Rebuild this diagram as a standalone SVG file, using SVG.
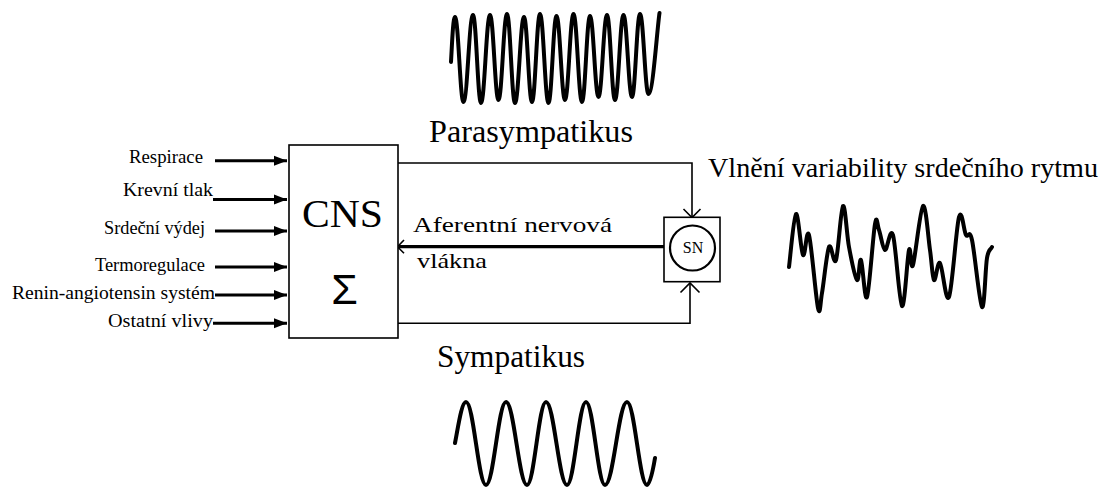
<svg xmlns="http://www.w3.org/2000/svg" width="1105" height="488" viewBox="0 0 1105 488">
<style>
.lbl{font-size:19px;text-anchor:end}
.sf{font-family:'Liberation Serif','Times New Roman',serif}
.box{fill:#fff;stroke:#000;stroke-width:1.6}
.thin{fill:none;stroke:#000;stroke-width:1.6}
.in{fill:none;stroke:#000;stroke-width:3}
.wave{fill:none;stroke:#000;stroke-width:4;stroke-linejoin:round;stroke-linecap:round}
</style>
<defs>
<marker id="fill" markerUnits="userSpaceOnUse" markerWidth="14" markerHeight="12" refX="13" refY="6" orient="auto">
<path d="M0,1 L13,6 L0,11 Z" fill="#000"/>
</marker>
</defs>
<rect width="1105" height="488" fill="#fff"/>

<g id="inputs" class="sf" fill="#000">
<text class="lbl" x="203" y="163" textLength="74" lengthAdjust="spacingAndGlyphs">Respirace</text>
<text class="lbl" x="213" y="196" textLength="90" lengthAdjust="spacingAndGlyphs">Krevní tlak</text>
<text class="lbl" x="205" y="234" textLength="101" lengthAdjust="spacingAndGlyphs">Srdeční výdej</text>
<text class="lbl" x="205" y="271" textLength="110" lengthAdjust="spacingAndGlyphs">Termoregulace</text>
<text class="lbl" x="215" y="299" textLength="203" lengthAdjust="spacingAndGlyphs">Renin-angiotensin systém</text>
<text class="lbl" x="213" y="327" textLength="105" lengthAdjust="spacingAndGlyphs">Ostatní vlivy</text>
</g>

<g id="connectors">
<line class="in" x1="215" y1="160.7" x2="287" y2="160.7" marker-end="url(#fill)"/>
<line class="in" x1="213" y1="199.5" x2="287" y2="199.5" marker-end="url(#fill)"/>
<line class="in" x1="215" y1="231" x2="287" y2="231" marker-end="url(#fill)"/>
<line class="in" x1="215" y1="267" x2="287" y2="267" marker-end="url(#fill)"/>
<line class="in" x1="215" y1="295" x2="287" y2="295" marker-end="url(#fill)"/>
<line class="in" x1="213" y1="323.3" x2="287" y2="323.3" marker-end="url(#fill)"/>
<polyline class="thin" points="398,163 692,163 692,217"/>
<polyline class="thin" points="683.5,209 692,217.5 700.5,209"/>
<polyline class="thin" points="398,323.3 690,323.3 690,283"/>
<polyline class="thin" points="680.5,292.5 690,283 699.5,292.5"/>
<line x1="664" y1="246.7" x2="399" y2="246.7" stroke="#000" stroke-width="3.3"/>
<polyline class="thin" points="404,240 397.5,246.7 404,253.3"/>
</g>

<g id="cns">
<rect class="box" x="289" y="145" width="109" height="193"/>
<text class="sf" x="302" y="227" font-size="41" textLength="81" lengthAdjust="spacingAndGlyphs">CNS</text>
<text x="344.5" y="304" font-family="Liberation Sans, Arial, sans-serif" font-size="43" text-anchor="middle">Σ</text>
</g>

<g id="sn">
<rect class="box" x="664" y="217.3" width="56" height="64.4"/>
<circle cx="692.5" cy="248" r="22.5" fill="#fff" stroke="#000" stroke-width="2.2"/>
<text class="sf" x="693" y="253" font-size="16" text-anchor="middle">SN</text>
</g>

<g id="labels" class="sf" fill="#000">
<text x="429" y="142" font-size="31" textLength="204" lengthAdjust="spacingAndGlyphs">Parasympatikus</text>
<text x="437" y="367" font-size="31" textLength="148" lengthAdjust="spacingAndGlyphs">Sympatikus</text>
<text x="708" y="177" font-size="28" textLength="390" lengthAdjust="spacingAndGlyphs">Vlnění variability srdečního rytmu</text>
<text x="413" y="232" font-size="22" textLength="199" lengthAdjust="spacingAndGlyphs">Aferentní nervová</text>
<text x="417" y="268" font-size="22" textLength="70" lengthAdjust="spacingAndGlyphs">vlákna</text>
</g>

<g id="parasympathetic-wave">
<path class="wave" d="M451,62 C452,45 453,17 455,17 C458.4,17 460.1,102 463.5,102 C467.3,102 469.2,15 473,15 C476.2,15 477.8,103 481,103 C484.6,103 486.4,15 490,15 C493.4,15 495.1,100 498.5,100 C501.9,100 503.6,14 507,14 C510.2,14 511.8,103 515,103 C518.6,103 520.4,17 524,17 C527.2,17 528.8,102 532,102 C535.2,102 536.8,14 540,14 C543.4,14 545.1,103 548.5,103 C551.7,103 553.3,16 556.5,16 C559.9,16 561.6,100 565,100 C568.4,100 570.1,14 573.5,14 C576.9,14 578.6,102 582,102 C585.2,102 586.8,16 590,16 C593.4,16 595.1,97 598.5,97 C601.9,97 603.6,15 607,15 C610.2,15 611.8,100 615,100 C618.4,100 620.1,15 623.5,15 C626.9,15 628.6,97 632,97 C635.2,97 636.8,14 640,14 C643.4,14 645.1,94 648.5,94 C652.9,94 657,30 659.5,13"/>
</g>

<g id="sympathetic-wave">
<path class="wave" d="M455,443 C458,428 461.5,402 466,402 C473.6,402 478.4,485 486,485 C493.6,485 498.4,402 506,402 C514,402 519,485 527,485 C534.2,485 538.8,402 546,402 C554,402 559,485 567,485 C574.2,485 578.8,402 586,402 C593.2,402 597.8,485 605,485 C613.4,485 618.6,402 627,402 C634.6,402 639.4,485 647,485 C650,485 653,470 655,458"/>
</g>

<g id="hrv-wave">
<path class="wave" d="M789,267 C790.2,258.2 793.7,216 796,214 C798.3,212 800.8,251.5 803,255 C805.2,258.5 806.5,226.2 809,235 C811.5,243.8 815.8,298.3 818,308 C820.2,317.7 820.2,303.2 822,293 C823.8,282.8 826.7,252.5 829,247 C831.3,241.5 833.7,266.8 836,260 C838.3,253.2 840.8,208.2 843,206 C845.2,203.8 846.7,234.7 849,247 C851.3,259.3 855,277.8 857,280 C859,282.2 859.3,257.2 861,260 C862.7,262.8 864.7,303 867,297 C869.3,291 873,235.2 875,224 C877,212.8 877.3,225.7 879,230 C880.7,234.3 882.7,249.2 885,250 C887.3,250.8 890.2,225.7 893,235 C895.8,244.3 899.3,303.5 902,306 C904.7,308.5 907.2,256.8 909,250 C910.8,243.2 910.7,272.3 913,265 C915.3,257.7 920.2,208.5 923,206 C925.8,203.5 928.2,237.7 930,250 C931.8,262.3 932.3,277.8 934,280 C935.7,282.2 937.5,260.2 940,263 C942.5,265.8 945.8,304.7 949,297 C952.2,289.3 956.2,227.3 959,217 C961.8,206.7 963.8,231.2 966,235 C968.2,238.8 969.3,228 972,240 C974.7,252 979.5,304 982,307 C984.5,310 985.3,268 987,258 C988.7,248 990.3,250.7 992,247"/>
</g>
</svg>
